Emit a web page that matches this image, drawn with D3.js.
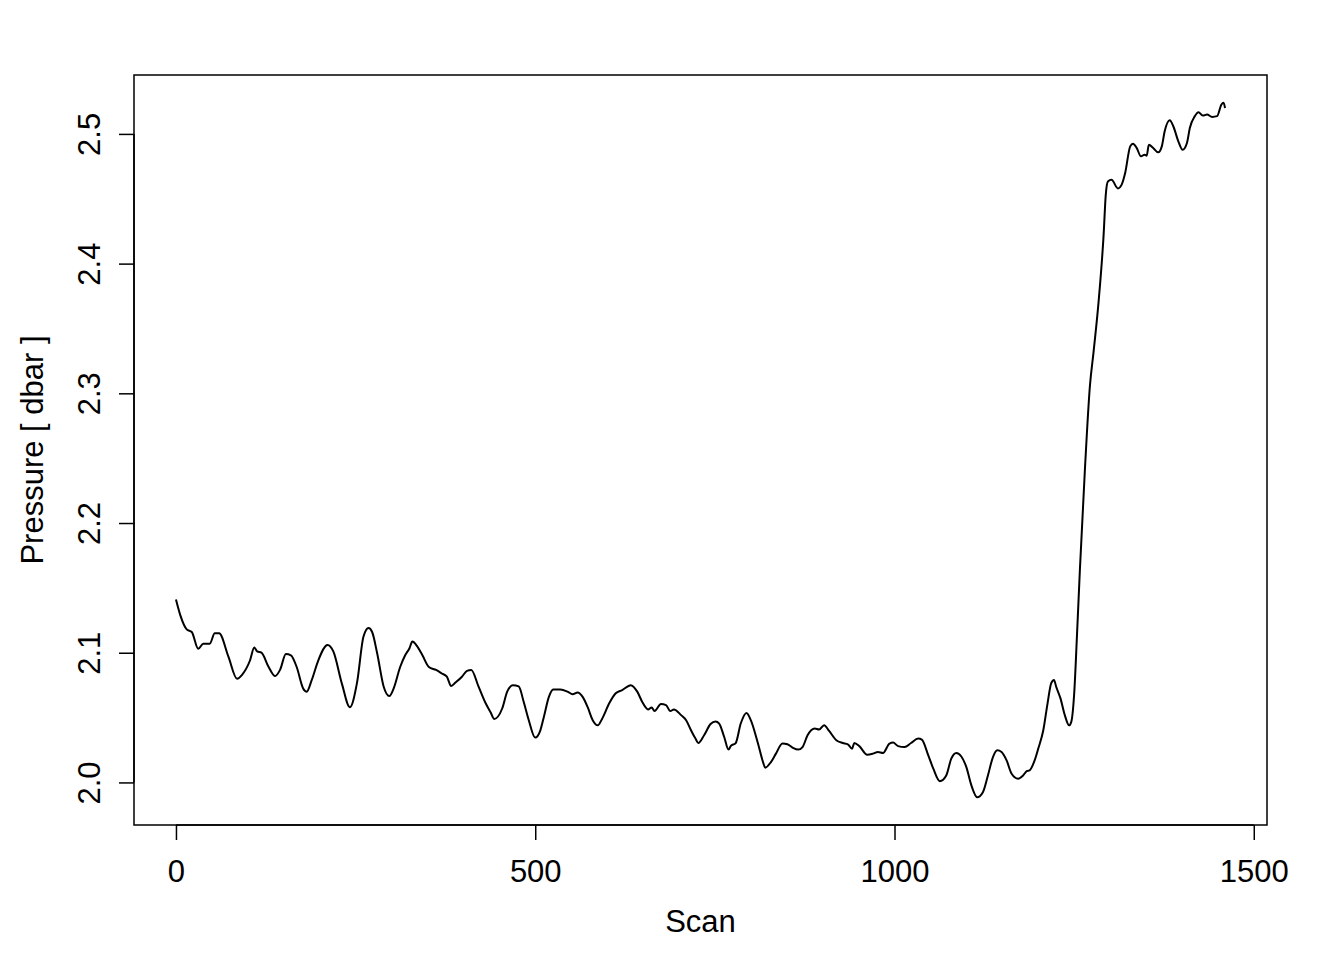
<!DOCTYPE html>
<html>
<head>
<meta charset="utf-8">
<script src="https://cdn.jsdelivr.net/npm/d3@7"></script>
<style>
  html, body { margin: 0; padding: 0; background: #fff; }
  svg { display: block; }
  text { font-family: "Liberation Sans", Arial, sans-serif; fill: #000; }
</style>
</head>
<body>
<svg id="chart" width="1344" height="960"></svg>
<script>
// ---- data ----
const scans = [
  0, 6, 15, 22, 31, 38, 47, 54, 60, 73, 85, 92, 103, 109, 113, 119, 129, 138, 145, 153,
  160, 168, 177, 182, 189, 198, 211, 219, 231, 242, 252, 261, 268, 273, 280, 289, 297, 303, 312, 319,
  325, 329, 336, 343, 352, 362, 370, 377, 383, 389, 398, 405, 411, 421, 431, 438, 443, 454, 461, 469,
  477, 484, 491, 500, 507, 512, 519, 525, 535, 545, 552, 559, 566, 573, 580, 587, 593, 603, 612, 621,
  633, 642, 649, 657, 662, 666, 675, 682, 688, 693, 703, 710, 717, 723, 727, 735, 744, 751, 756, 763,
  769, 772, 779, 786, 794, 800, 810, 817, 820, 828, 835, 844, 851, 858, 866, 872, 879, 889, 895, 902,
  909, 919, 928, 935, 941, 944, 951, 962, 970, 977, 984, 993, 998, 1005, 1014, 1023, 1033, 1038, 1047, 1054,
  1063, 1072, 1079, 1086, 1093, 1100, 1107, 1115, 1123, 1130, 1137, 1143, 1149, 1156, 1163, 1172, 1179, 1184, 1188, 1195,
  1200, 1207, 1213, 1218, 1222, 1225, 1231, 1237, 1243, 1246, 1250, 1254, 1258, 1265, 1272, 1277, 1284, 1291, 1294,
  1297, 1302, 1311, 1316, 1321, 1328, 1332, 1337, 1343, 1348, 1351, 1354, 1360, 1367, 1372, 1376, 1383, 1388, 1395, 1401,
  1407, 1411, 1418, 1423, 1429, 1435, 1442, 1449, 1455, 1458, 1460
];
const pressure = [
  2.141, 2.129, 2.118, 2.116, 2.103, 2.107, 2.107, 2.115, 2.115, 2.097, 2.080, 2.083, 2.094, 2.104, 2.101, 2.100, 2.089, 2.082, 2.087, 2.099,
  2.098, 2.089, 2.0725, 2.070, 2.079, 2.094, 2.106, 2.101, 2.076, 2.058, 2.077, 2.1125, 2.119, 2.116, 2.0996, 2.074, 2.0666, 2.0725, 2.089, 2.098,
  2.1035, 2.1086, 2.1047, 2.098, 2.089, 2.0867, 2.084, 2.0815, 2.0743, 2.077, 2.0815, 2.086, 2.0867, 2.074, 2.061, 2.054, 2.049, 2.057, 2.070, 2.075,
  2.074, 2.062, 2.048, 2.0346, 2.040, 2.0505, 2.066, 2.0717, 2.0717, 2.070, 2.068, 2.0694, 2.066, 2.058, 2.048, 2.044, 2.049, 2.061, 2.0687, 2.0712,
  2.075, 2.070, 2.062, 2.0563, 2.0578, 2.055, 2.0604, 2.0596, 2.055, 2.0563, 2.0519, 2.048, 2.040, 2.0338, 2.0304, 2.0364, 2.045, 2.047, 2.0454, 2.035,
  2.0253, 2.028, 2.0304, 2.0454, 2.0536, 2.048, 2.030, 2.0157, 2.0114, 2.0157, 2.0222, 2.030, 2.0294, 2.0269, 2.0253, 2.0273, 2.0364, 2.0416, 2.0408, 2.0441,
  2.0397, 2.0325, 2.0304, 2.0294, 2.026, 2.0304, 2.028, 2.0214, 2.0222, 2.0235, 2.0227, 2.030, 2.0307, 2.028, 2.0273, 2.0304, 2.0338, 2.033, 2.0209, 2.0106,
  2.001, 2.0054, 2.0183, 2.0227, 2.020, 2.0118, 1.9977, 1.9886, 1.9925, 2.0054, 2.0196, 2.0248, 2.0235, 2.017, 2.0067, 2.0029, 2.0054, 2.0087, 2.0093, 2.017,
  2.026, 2.040, 2.061, 2.0764, 2.079, 2.0738, 2.0648, 2.0519, 2.044, 2.0467, 2.068, 2.114, 2.164, 2.2415, 2.306, 2.3318, 2.3705, 2.422, 2.453,
  2.4633, 2.4646, 2.458, 2.4607, 2.4698, 2.4904, 2.4925, 2.4892, 2.4827, 2.484, 2.4832, 2.4917, 2.4892, 2.4858, 2.4904, 2.502, 2.5105, 2.5059, 2.4943, 2.4878,
  2.493, 2.5046, 2.5137, 2.5167, 2.5141, 2.5149, 2.5131, 2.5137, 2.5227, 2.524, 2.520
];
const xTicks = [0, 500, 1000, 1500];
const yTicks = [2.0, 2.1, 2.2, 2.3, 2.4, 2.5];
const xTitle = "Scan";
const yTitle = "Pressure [ dbar ]";

// ---- layout ----
const svg = d3.select("#chart");
const box = { left: 134, right: 1267, top: 75, bottom: 825 };
const fontSize = 31;

const data = scans.map((s, i) => ({ s, p: pressure[i] }));

// R-style 4% extension of data ranges
const xr = d3.extent(scans), yr = d3.extent(pressure);
const xpad = (xr[1] - xr[0]) * 0.04, ypad = (yr[1] - yr[0]) * 0.04;
const x = d3.scaleLinear().domain([xr[0] - xpad, xr[1] + xpad]).range([box.left, box.right]);
const y = d3.scaleLinear().domain([yr[0] - ypad, yr[1] + ypad]).range([box.bottom, box.top]);

// line
const line = d3.line().x(d => x(d.s)).y(d => y(d.p)).curve(d3.curveMonotoneX);
svg.append("path")
  .datum(data)
  .attr("d", line)
  .attr("fill", "none")
  .attr("stroke", "#000")
  .attr("stroke-width", 2)
  .attr("stroke-linejoin", "round");

// box
svg.append("rect")
  .attr("x", box.left).attr("y", box.top)
  .attr("width", box.right - box.left).attr("height", box.bottom - box.top)
  .attr("fill", "none").attr("stroke", "#000").attr("stroke-width", 1.5);

// x axis
const xAxis = d3.axisBottom(x).tickValues(xTicks).tickSize(15).tickPadding(20).tickFormat(d3.format("d"));
const gx = svg.append("g").attr("transform", `translate(0,${box.bottom})`).call(xAxis);
gx.select(".domain").attr("d", `M${x(xTicks[0])},0H${x(xTicks[xTicks.length-1])}`).attr("stroke-width", 1.5);
gx.selectAll(".tick line").attr("stroke-width", 1.5);
gx.selectAll("text").attr("font-size", fontSize).attr("font-family", '"Liberation Sans", Arial, sans-serif').attr("fill", "#000");

// y axis
const yAxis = d3.axisLeft(y).tickValues(yTicks).tickSize(15).tickPadding(0).tickFormat(d3.format(".1f"));
const gy = svg.append("g").attr("transform", `translate(${box.left},0)`).call(yAxis);
gy.select(".domain").attr("d", `M0,${y(yTicks[0])}V${y(yTicks[yTicks.length-1])}`).attr("stroke-width", 1.5);
gy.selectAll(".tick line").attr("stroke-width", 1.5);
gy.selectAll("text")
  .attr("font-size", fontSize)
  .attr("font-family", '"Liberation Sans", Arial, sans-serif')
  .attr("fill", "#000")
  .attr("x", null)
  .attr("text-anchor", "middle")
  .attr("transform", "translate(-34,0) rotate(-90)")
  .attr("y", 0)
  .attr("dy", "0");

// titles
svg.append("text")
  .attr("x", (box.left + box.right) / 2).attr("y", 932)
  .attr("text-anchor", "middle").attr("font-size", fontSize)
  .text(xTitle);
svg.append("text")
  .attr("transform", `translate(43,${(box.top + box.bottom) / 2}) rotate(-90)`)
  .attr("text-anchor", "middle").attr("font-size", fontSize)
  .text(yTitle);
</script>
</body>
</html>
